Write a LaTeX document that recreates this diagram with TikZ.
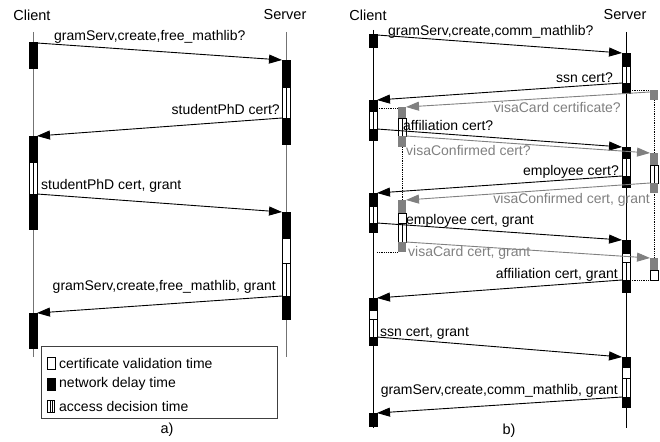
\documentclass[tikz,border=0pt]{standalone}
\usepackage{fontspec}
\setmainfont{Liberation Sans}
\usetikzlibrary{arrows.meta}
\usepackage{xcolor}
\definecolor{ttpgray}{gray}{0.5}
\definecolor{linegray}{gray}{0.45}
\newcommand{\netbox}[3] {
    \draw[thin,fill=black] ({#1-4},{#2}) rectangle ({#1+4},{#3});
}
\newcommand{\certbox}[3] {
    \draw[thin,fill=white] ({#1-4},{#2}) rectangle ({#1+4},{#3});
}
\newcommand{\decbox}[3] {
    \draw[thin,fill=white] ({#1-4},{#2}) rectangle ({#1+4},{#3});
    \draw[thin] ({#1},{#2}) -- ({#1},{#3});
}
\newcommand{\ttpbox}[3] {
    \fill[ttpgray] ({#1-4},{#2}) rectangle ({#1+4},{#3});
}
\tikzset{
    lbl/.style={font=\fontsize{14}{16}\selectfont,inner sep=0pt},
    title/.style={font=\fontsize{14.5}{17}\selectfont,inner sep=0pt},
    msg/.style={line width=0.9pt,-{Triangle[length=13pt,width=9pt]}},
    ttpmsg/.style={msg,draw=ttpgray,color=ttpgray},
    link/.style={line width=0.8pt,densely dotted},
}

\begin{document}
\begin{tikzpicture}[x=1pt,y=-1pt]
    \useasboundingbox (0,0) rectangle (660,441);

    % a) lifelines
    \node[title] (cla) at (32,15) {Client};
    \node[title] (sva) at (285,15) {Server};
    \draw[linegray,line width=1pt] (33,32) -- (33,357);
    \draw[linegray,line width=1pt] (286,32) -- (286,357);

    % b) lifelines
    \node[title] (clb) at (368,15) {Client};
    \node[title] (svb) at (625,15) {Server};
    \draw[line width=0.9pt] (373,30) -- (373,428);
    \draw[line width=0.9pt] (626,32) -- (626,428);
    \draw[link] (402,147) -- (402,200);
    \draw[link] (654,100) -- (654,258);
    \draw[link] (377,108) -- (398,108);
    \draw[link] (377,252) -- (398,252);
    \draw[link] (630,90) -- (650,90);
    \draw[link] (630,280) -- (650,280);

    % a) client
    \netbox{33}{42}{68}
    \netbox{33}{136}{162} \decbox{33}{162}{194} \netbox{33}{194}{229}
    \netbox{33}{313}{348}
    % a) server
    \netbox{286}{60}{87} \decbox{286}{87}{118} \netbox{286}{118}{144}
    \netbox{286}{212}{238} \certbox{286}{238}{263} \decbox{286}{263}{296}
    \netbox{286}{296}{319}

    % b) client
    \netbox{373}{34}{47}
    \netbox{373}{100}{111} \decbox{373}{111}{129} \netbox{373}{129}{140}
    \netbox{373}{193}{206} \decbox{373}{206}{223} \netbox{373}{223}{232}
    \netbox{373}{298}{310} \certbox{373}{310}{319} \decbox{373}{319}{337}
    \netbox{373}{337}{345}
    \netbox{373}{413}{426}
    % b) server
    \netbox{626}{53}{66} \decbox{626}{66}{83} \netbox{626}{83}{93}
    \netbox{626}{147}{158} \decbox{626}{158}{176} \netbox{626}{176}{187}
    \netbox{626}{240}{253} \certbox{626}{253}{262} \decbox{626}{262}{280}
    \netbox{626}{280}{292}
    \netbox{626}{357}{367} \certbox{626}{367}{378} \decbox{626}{378}{397}
    \netbox{626}{397}{407}
    % b) third parties
    \ttpbox{402}{107}{118} \decbox{402}{118}{136} \ttpbox{402}{136}{147}
    \ttpbox{402}{200}{213} \certbox{402}{213}{223} \decbox{402}{223}{242}
    \ttpbox{402}{242}{252}
    \ttpbox{654}{90}{100}
    \ttpbox{654}{153}{165} \decbox{654}{165}{183} \ttpbox{654}{183}{193}
    \ttpbox{654}{258}{270} \certbox{654}{270}{280}

    % messages
    \foreach \n/\xa/\ya/\xb/\yb in {a1/37/43/282/60, a2/282/118/37/136,
        a3/37/194/282/212, a4/282/296/37/313,
        b1/377/35/622/53, b2/622/83/377/100, b3/377/129/622/147,
        b4/622/176/377/193, b5/377/223/622/240, b6/622/280/377/298,
        b7/377/337/622/357, b8/622/397/377/413} {
        \coordinate (\n-s) at (\xa,\ya);
        \coordinate (\n-e) at (\xb,\yb);
        \draw[msg] (\n-s) -- (\n-e);
    }
    \foreach \n/\xa/\ya/\xb/\yb in {g1/650/92/406/107, g2/406/136/650/153,
        g3/650/183/406/200, g4/406/242/650/258} {
        \coordinate (\n-s) at (\xa,\ya);
        \coordinate (\n-e) at (\xb,\yb);
        \draw[ttpmsg] (\n-s) -- (\n-e);
    }

    % a) labels
    \node[lbl,anchor=west] (la1) at (54,37) {gramServ,create,free\_mathlib?};
    \node[lbl,anchor=east] (la2) at (280,109) {studentPhD cert?};
    \node[lbl,anchor=west] (la3) at (41,186) {studentPhD cert, grant};
    \node[lbl,anchor=east] (la4) at (276,287) {gramServ,create,free\_mathlib, grant};

    % b) labels
    \node[lbl,anchor=west] (lb1) at (388,32) {gramServ,create,comm\_mathlib?};
    \node[lbl,anchor=east] (lb2) at (613,78) {ssn cert?};
    \node[lbl,anchor=west] (lb3) at (403,125) {affiliation cert?};
    \node[lbl,anchor=east] (lb4) at (619,172) {employee cert?};
    \node[lbl,anchor=west] (lb5) at (406,221) {employee cert, grant};
    \node[lbl,anchor=east] (lb6) at (618,275) {affiliation cert, grant};
    \node[lbl,anchor=west] (lb7) at (380,333) {ssn cert, grant};
    \node[lbl,anchor=east] (lb8) at (618,391) {gramServ,create,comm\_mathlib, grant};
    \node[lbl,anchor=east,ttpgray] (lg1) at (621,107) {visaCard certificate?};
    \node[lbl,anchor=west,ttpgray] (lg2) at (406,150) {visaConfirmed cert?};
    \node[lbl,anchor=east,ttpgray] (lg3) at (650,200) {visaConfirmed cert, grant};
    \node[lbl,anchor=west,ttpgray] (lg4) at (408,253) {visaCard cert, grant};

    % legend
    \node[draw=black!75,line width=0.8pt,fill=white,minimum width=236pt,
        minimum height=72pt,inner sep=0pt] (legend) at (159,382) {};
    \certbox{51}{357}{369}
    \netbox{51}{378}{390}
    \draw[thin,fill=white] (47.5,400) rectangle (54.5,412);
    \draw[thin] (49.8,400) -- (49.8,412);
    \draw[thin] (52.2,400) -- (52.2,412);
    \node[lbl,anchor=west] (leg1) at (59,363) {certificate validation time};
    \node[lbl,anchor=west] (leg2) at (59,384) {network delay time};
    \node[lbl,anchor=west] (leg3) at (59,406) {access decision time};

    \node[title] (capa) at (167,430) {a)};
    \node[title] (capb) at (509,431) {b)};
\end{tikzpicture}
\end{document}
